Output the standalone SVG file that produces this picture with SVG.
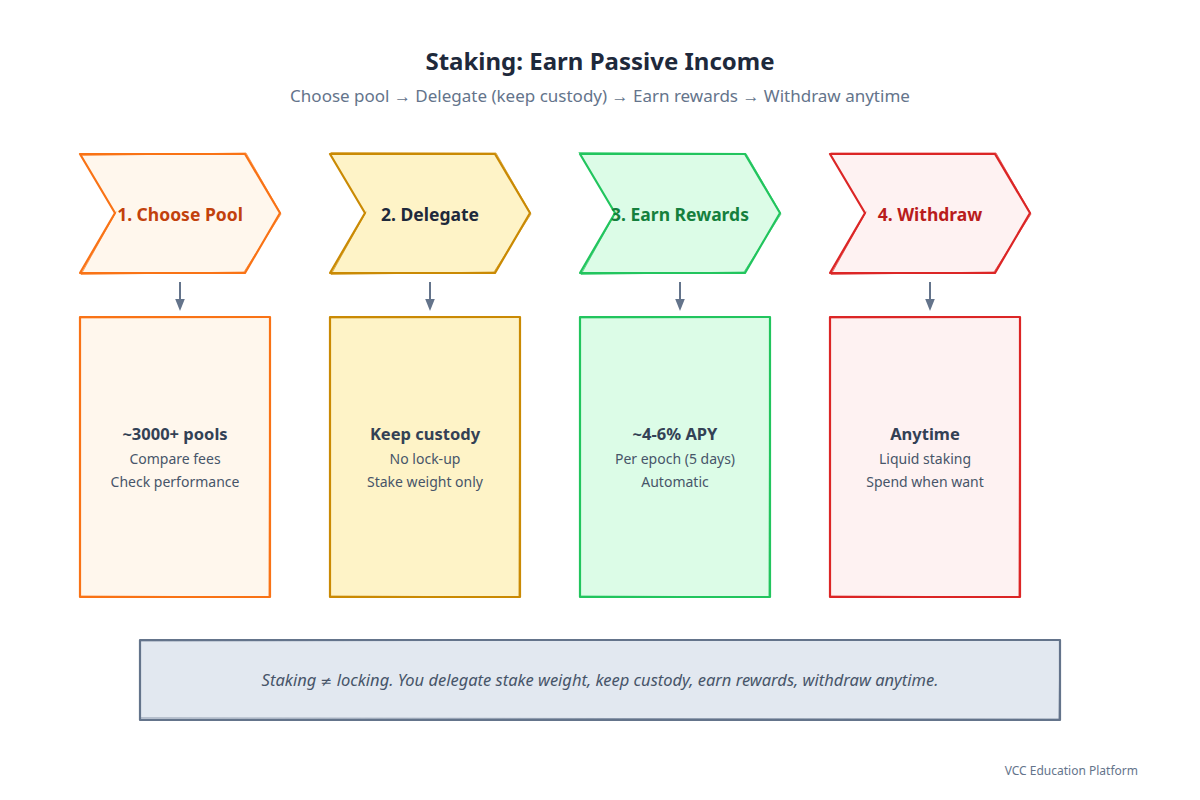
<svg xmlns="http://www.w3.org/2000/svg" width="1200" height="800" viewBox="0 0 1200 800">
<style>
text{font-family:"Noto Sans","Open Sans","Liberation Sans",sans-serif}
.title{font-size:24px;font-weight:700;fill:#1e293b}
.sub{font-size:17px;fill:#64748b}
.head{font-size:17.5px;font-weight:700}
.b1{font-size:16.5px;font-weight:700;fill:#334155}
.b2{font-size:14px;fill:#475569}
.note{font-size:16.5px;font-style:italic;fill:#475569}
.neq{font-family:"DejaVu Sans",sans-serif;font-style:normal;font-size:14px}
.foot{font-size:12px;fill:#64748b}
.sk{stroke-width:2.2;stroke-linejoin:round;stroke-linecap:round}
.sk2{fill:none;stroke-width:1;stroke-linecap:round;opacity:.7}
.arr{stroke:#64748b;stroke-width:2;fill:none}
</style>
<defs>
<marker id="ah" viewBox="0 0 10 10" refX="5" refY="5" markerWidth="6" markerHeight="6" orient="auto"><path d="M0,1 L10,5 L0,9 z" fill="#64748b"/></marker>
</defs>
<rect width="1200" height="800" fill="#ffffff"/>
<text class="title" x="600" y="70" text-anchor="middle">Staking: Earn Passive Income</text>
<text class="sub" x="600" y="102" text-anchor="middle">Choose pool → Delegate (keep custody) → Earn rewards → Withdraw anytime</text>

<g id="step1">
<path class="sk" d="M80,154 L245,154 L280,213 L245,273 L80,273 L115,213 Z" fill="#fff7ed" stroke="#f97316"/>
<path class="sk2" d="M81,155.5 L246,153 L281,214 L244,272 L81,274.5 L116,212" stroke="#f97316"/>
<text class="head" x="180" y="221" text-anchor="middle" fill="#c2410c">1. Choose Pool</text>
</g>
<g id="step2">
<path class="sk" d="M330,154 L495,154 L530,213 L495,273 L330,273 L365,213 Z" fill="#fef3c7" stroke="#ca8a04"/>
<path class="sk2" d="M331,152.5 L496,153 L531,214 L494,272 L331,274.5 L366,212" stroke="#ca8a04"/>
<text class="head" x="430" y="221" text-anchor="middle" fill="#1e293b">2. Delegate</text>
</g>
<g id="step3">
<path class="sk" d="M580,154 L745,154 L780,213 L745,273 L580,273 L615,213 Z" fill="#dcfce7" stroke="#22c55e"/>
<path class="sk2" d="M579,152.5 L746,153.5 L781,214 L744,272 L581,274.5 L616,212" stroke="#22c55e"/>
<text class="head" x="680" y="221" text-anchor="middle" fill="#15803d">3. Earn Rewards</text>
</g>
<g id="step4">
<path class="sk" d="M830,154 L995,154 L1030,213 L995,273 L830,273 L865,213 Z" fill="#fef2f2" stroke="#dc2626"/>
<path class="sk2" d="M831,153 L996,153 L1031,214 L994,272 L831,274.5 L866,212" stroke="#dc2626"/>
<text class="head" x="930" y="221" text-anchor="middle" fill="#b91c1c">4. Withdraw</text>
</g>

<g id="connectors">
<line class="arr" x1="180" y1="282" x2="180" y2="305" marker-end="url(#ah)"/>
<line class="arr" x1="430" y1="282" x2="430" y2="305" marker-end="url(#ah)"/>
<line class="arr" x1="680" y1="282" x2="680" y2="305" marker-end="url(#ah)"/>
<line class="arr" x1="930" y1="282" x2="930" y2="305" marker-end="url(#ah)"/>
</g>

<g id="detail1">
<rect class="sk" x="80" y="317" width="190" height="280" fill="#fff7ed" stroke="#f97316"/>
<path class="sk2" d="M81,318 L270,317.5 L269,597 L80,596" stroke="#f97316"/>
<text class="b1" x="175" y="440" text-anchor="middle">~3000+ pools</text>
<text class="b2" x="175" y="464" text-anchor="middle">Compare fees</text>
<text class="b2" x="175" y="487" text-anchor="middle">Check performance</text>
</g>
<g id="detail2">
<rect class="sk" x="330" y="317" width="190" height="280" fill="#fef3c7" stroke="#ca8a04"/>
<path class="sk2" d="M331,318 L520,317.5 L519,597 L330,596" stroke="#ca8a04"/>
<text class="b1" x="425" y="440" text-anchor="middle">Keep custody</text>
<text class="b2" x="425" y="464" text-anchor="middle">No lock-up</text>
<text class="b2" x="425" y="487" text-anchor="middle">Stake weight only</text>
</g>
<g id="detail3">
<rect class="sk" x="580" y="317" width="190" height="280" fill="#dcfce7" stroke="#22c55e"/>
<path class="sk2" d="M581,318 L770,317.5 L769,597 L580,596" stroke="#22c55e"/>
<text class="b1" x="675" y="440" text-anchor="middle">~4-6% APY</text>
<text class="b2" x="675" y="464" text-anchor="middle">Per epoch (5 days)</text>
<text class="b2" x="675" y="487" text-anchor="middle">Automatic</text>
</g>
<g id="detail4">
<rect class="sk" x="830" y="317" width="190" height="280" fill="#fef2f2" stroke="#dc2626"/>
<path class="sk2" d="M831,318 L1020,317.5 L1019,597 L830,596" stroke="#dc2626"/>
<text class="b1" x="925" y="440" text-anchor="middle">Anytime</text>
<text class="b2" x="925" y="464" text-anchor="middle">Liquid staking</text>
<text class="b2" x="925" y="487" text-anchor="middle">Spend when want</text>
</g>

<g id="summary">
<rect class="sk" x="140" y="640" width="920" height="80" fill="#e2e8f0" stroke="#64748b"/>
<path class="sk2" d="M141,641 L1060,639.5 L1059,719 L140,718" stroke="#64748b"/>
<text class="note" x="600" y="686" text-anchor="middle">Staking <tspan class="neq">≠</tspan> locking. You delegate stake weight, keep custody, earn rewards, withdraw anytime.</text>
</g>
<text class="foot" x="1138" y="775" text-anchor="end">VCC Education Platform</text>
</svg>
